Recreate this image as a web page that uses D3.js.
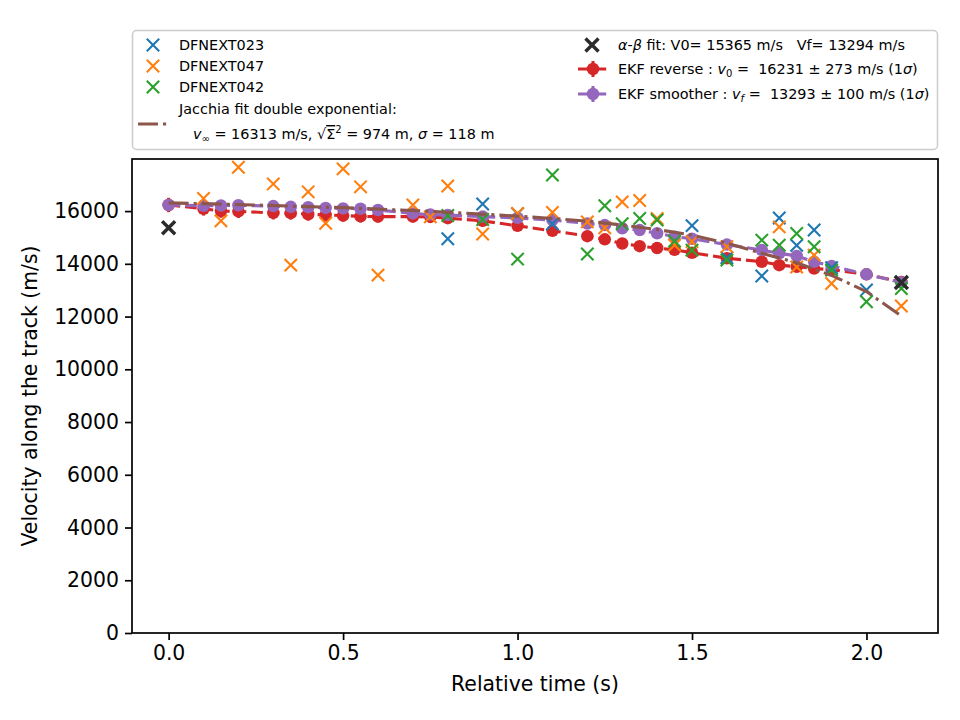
<!DOCTYPE html>
<html>
<head>
<meta charset="utf-8">
<script src="https://cdn.jsdelivr.net/npm/d3@7"></script>
<style>
  body { margin: 0; background: #fff; }
  svg { font-family: 'DejaVu Sans', sans-serif; }
</style>
</head>
<body>
<svg id="chart" width="960" height="720"></svg>
<script>
// EKF time steps (s)
const ekfTimes = [0, 0.1, 0.15, 0.2, 0.3, 0.35, 0.4, 0.45, 0.5, 0.55, 0.6, 0.7, 0.75, 0.8, 0.9, 1.0,
  1.1, 1.2, 1.25, 1.3, 1.35, 1.4, 1.45, 1.5, 1.6, 1.7, 1.75, 1.8, 1.85, 1.9, 2.0, 2.1]
const ekfReverse = [16231, 16090, 16000, 15990, 15930, 15920, 15880, 15850, 15830, 15800, 15790, 15790,
  15780, 15730, 15630, 15440, 15250, 15050, 14930, 14770, 14670, 14600, 14530, 14420, 14210, 14080,
  13950, 13890, 13820, 13780, 13600, 13310]
const ekfReverseErr = [273, 260, 255, 250, 245, 240, 240, 235, 230, 230, 225, 220, 220, 215, 210, 205,
  200, 200, 195, 190, 190, 185, 185, 180, 175, 170, 170, 165, 165, 160, 155, 150]
const ekfSmoother = [16231, 16200, 16210, 16220, 16190, 16160, 16150, 16120, 16100, 16090, 16040, 15910,
  15870, 15850, 15790, 15740, 15660, 15530, 15470, 15350, 15280, 15160, 15030, 14950, 14730, 14520,
  14400, 14300, 14075, 13920, 13600, 13293]
const ekfSmootherErr = [120, 118, 118, 116, 115, 114, 113, 112, 112, 111, 110, 109, 108, 108, 107, 106,
  105, 105, 104, 104, 103, 103, 102, 102, 101, 101, 101, 100, 100, 100, 100, 100]

// per-camera observations [t, v]
const dfn023 = [[0.8, 14950], [0.9, 16270], [1.0, 15900], [1.1, 15510], [1.5, 15450], [1.6, 14230],
  [1.7, 13540], [1.75, 15740], [1.8, 14700], [1.85, 15280], [1.9, 13850], [2.0, 13010], [2.1, 13300]]
const dfn047 = [[0.1, 16480], [0.15, 15630], [0.2, 17660], [0.3, 17030], [0.35, 13950], [0.4, 16730],
  [0.45, 15540], [0.5, 17600], [0.55, 16920], [0.6, 13570], [0.7, 16230], [0.75, 15780], [0.8, 16950],
  [0.9, 15130], [1.0, 15910], [1.1, 15950], [1.2, 15590], [1.25, 15370], [1.3, 16350], [1.35, 16400],
  [1.4, 15720], [1.45, 14710], [1.5, 14840], [1.6, 14650], [1.75, 15400], [1.8, 13880], [1.85, 14330],
  [1.9, 13255], [2.1, 12400]]
const dfn042 = [[0.8, 15830], [0.9, 15680], [1.0, 14180], [1.1, 17370], [1.2, 14370], [1.25, 16200],
  [1.3, 15520], [1.35, 15720], [1.4, 15660], [1.45, 14860], [1.5, 14520], [1.6, 14140], [1.7, 14900],
  [1.75, 14710], [1.8, 15150], [1.85, 14645], [1.9, 13760], [2.0, 12560], [2.1, 13065]]

const jacchiaT = [0, 0.25, 0.5, 0.75, 1.0, 1.1, 1.2, 1.3, 1.4, 1.5, 1.6, 1.7, 1.8, 1.9, 2.0, 2.1]
const jacchiaV = [16313, 16230, 16130, 15990, 15810, 15720, 15620, 15470, 15300, 15090, 14780, 14400,
  14040, 13560, 12950, 12020]

const alphaBeta = [[0, 15365], [2.1, 13294]]

const xTicks = [0, 0.5, 1.0, 1.5, 2.0]
const yTicks = [0, 2000, 4000, 6000, 8000, 10000, 12000, 14000, 16000]

const colors = {
  blue: '#1f77b4', orange: '#ff7f0e', green: '#2ca02c', red: '#d62728',
  purple: '#9467bd', brown: '#8c564b', black: '#2b2b2b'
}

const margin = { top: 159, left: 132, bottom: 87, right: 22 }
const svg = d3.select('#chart')
const width = +svg.attr('width') - margin.left - margin.right
const height = +svg.attr('height') - margin.top - margin.bottom

const x = d3.scaleLinear().domain([-0.105, 2.205]).range([0, width])
const y = d3.scaleLinear().domain([0, 17975]).range([height, 0])

const g = svg.append('g').attr('transform', `translate(${margin.left},${margin.top})`)

const crossPath = s => `M${-s},${-s}L${s},${s}M${-s},${s}L${s},${-s}`

function crosses (sel, data, color, s = 6.2, sw = 2.1) {
  sel.append('g').selectAll('path').data(data).join('path')
    .attr('transform', d => `translate(${x(d[0])},${y(d[1])})`)
    .attr('d', crossPath(s))
    .attr('stroke', color).attr('stroke-width', sw).attr('fill', 'none')
}

function ekf (vals, errs, color) {
  const data = ekfTimes.map((t, i) => [t, vals[i], errs[i]])
  const grp = g.append('g')
  grp.selectAll('line').data(data).join('line')
    .attr('x1', d => x(d[0])).attr('x2', d => x(d[0]))
    .attr('y1', d => y(d[1] - d[2])).attr('y2', d => y(d[1] + d[2]))
    .attr('stroke', color).attr('stroke-width', 3.1)
  grp.append('path').datum(data)
    .attr('d', d3.line().x(d => x(d[0])).y(d => y(d[1])))
    .attr('fill', 'none').attr('stroke', color).attr('stroke-width', 3.1)
    .attr('stroke-dasharray', '11.6,5')
  grp.selectAll('circle').data(data).join('circle')
    .attr('cx', d => x(d[0])).attr('cy', d => y(d[1])).attr('r', 6.25)
    .attr('fill', color)
}

ekf(ekfReverse, ekfReverseErr, colors.red)
ekf(ekfSmoother, ekfSmootherErr, colors.purple)

crosses(g, dfn023, colors.blue)
crosses(g, dfn047, colors.orange)
crosses(g, dfn042, colors.green)

g.append('path').datum(jacchiaT.map((t, i) => [t, jacchiaV[i]]))
  .attr('d', d3.line().x(d => x(d[0])).y(d => y(d[1])))
  .attr('fill', 'none').attr('stroke', colors.brown).attr('stroke-width', 3.1)
  .attr('stroke-dasharray', '20,5,3.1,5')

crosses(g, alphaBeta, colors.black, 6.5, 3.4)

// axes
const xAxis = g.append('g').attr('transform', `translate(0,${height})`)
  .call(d3.axisBottom(x).tickValues(xTicks).tickFormat(d3.format('.1f')).tickSize(7).tickPadding(6))
const yAxis = g.append('g')
  .call(d3.axisLeft(y).tickValues(yTicks).tickFormat(d3.format('d')).tickSize(7).tickPadding(6))
;[xAxis, yAxis].forEach(a => {
  a.select('.domain').remove()
  a.selectAll('.tick line').attr('stroke', '#000').attr('stroke-width', 1.7)
  a.selectAll('.tick text').attr('fill', '#000').attr('font-size', 20.4)
    .attr('font-family', "'DejaVu Sans', sans-serif")
})
g.append('rect').attr('width', width).attr('height', height)
  .attr('fill', 'none').attr('stroke', '#000').attr('stroke-width', 1.7)

svg.append('text').attr('x', margin.left + width / 2).attr('y', 691)
  .attr('text-anchor', 'middle').attr('font-size', 20.4).text('Relative time (s)')
svg.append('text').attr('transform', `translate(37,${margin.top + height / 2}) rotate(-90)`)
  .attr('text-anchor', 'middle').attr('font-size', 20.4).text('Velocity along the track (m/s)')

// legend
const lg = svg.append('g').attr('font-size', 14.4)
lg.append('rect').attr('x', 132.5).attr('y', 30.5).attr('width', 805).attr('height', 119).attr('rx', 4)
  .attr('fill', '#fff').attr('fill-opacity', 0.8).attr('stroke', '#cccccc').attr('stroke-width', 1.5)

const camLegend = [['DFNEXT023', colors.blue], ['DFNEXT047', colors.orange], ['DFNEXT042', colors.green]]
camLegend.forEach(([name, color], i) => {
  const cy = 45 + i * 21
  lg.append('path').attr('transform', `translate(153,${cy})`).attr('d', crossPath(6.2))
    .attr('stroke', color).attr('stroke-width', 2.1)
  lg.append('text').attr('x', 179).attr('y', cy + 5).text(name)
})
lg.append('line').attr('x1', 138).attr('x2', 168).attr('y1', 124).attr('y2', 124)
  .attr('stroke', colors.brown).attr('stroke-width', 3.1).attr('stroke-dasharray', '20,5,3.1,5')
lg.append('text').attr('x', 179).attr('y', 114).text('Jacchia fit double exponential:')
const jt = lg.append('text').attr('x', 193).attr('y', 139)
jt.append('tspan').attr('font-style', 'italic').text('v')
jt.append('tspan').attr('font-size', 10).attr('dy', 3).text('∞')
jt.append('tspan').attr('dy', -3).text(' = 16313 m/s, √')
jt.append('tspan').attr('text-decoration', 'overline').text('Σ')
jt.append('tspan').attr('font-size', 10).attr('dy', -6).text('2')
jt.append('tspan').attr('dy', 6).text(' = 974 m, ')
jt.append('tspan').attr('font-style', 'italic').text('σ')
jt.append('tspan').text(' = 118 m')

lg.append('path').attr('transform', 'translate(592,45)').attr('d', crossPath(6.5))
  .attr('stroke', colors.black).attr('stroke-width', 3.4)
const ab = lg.append('text').attr('x', 618).attr('y', 50)
ab.append('tspan').attr('font-style', 'italic').text('α')
ab.append('tspan').text('-')
ab.append('tspan').attr('font-style', 'italic').text('β')
ab.append('tspan').attr('xml:space', 'preserve').style('white-space', 'pre')
  .text(' fit: V0= 15365 m/s   Vf= 13294 m/s')

const ekfLegend = [
  { color: colors.red, cy: 69, sub: '0', label: 'EKF reverse : ', rest: ' =  16231 ± 273 m/s (1' },
  { color: colors.purple, cy: 94, sub: 'f', label: 'EKF smoother : ', rest: ' =  13293 ± 100 m/s (1' }
]
ekfLegend.forEach(e => {
  lg.append('line').attr('x1', 578).attr('x2', 608).attr('y1', e.cy).attr('y2', e.cy)
    .attr('stroke', e.color).attr('stroke-width', 3.1).attr('stroke-dasharray', '11.6,5')
  lg.append('line').attr('x1', 593).attr('x2', 593).attr('y1', e.cy - 8).attr('y2', e.cy + 8)
    .attr('stroke', e.color).attr('stroke-width', 3.1)
  lg.append('circle').attr('cx', 593).attr('cy', e.cy).attr('r', 6.25).attr('fill', e.color)
  const t = lg.append('text').attr('x', 618).attr('y', e.cy + 5).style('white-space', 'pre')
  t.append('tspan').text(e.label)
  t.append('tspan').attr('font-style', 'italic').text('v')
  t.append('tspan').attr('font-size', 10).attr('dy', 3).attr('font-style', e.sub === 'f' ? 'italic' : 'normal').text(e.sub)
  t.append('tspan').attr('dy', -3).text(e.rest)
  t.append('tspan').attr('font-style', 'italic').text('σ')
  t.append('tspan').text(')')
})
</script>
</body>
</html>
